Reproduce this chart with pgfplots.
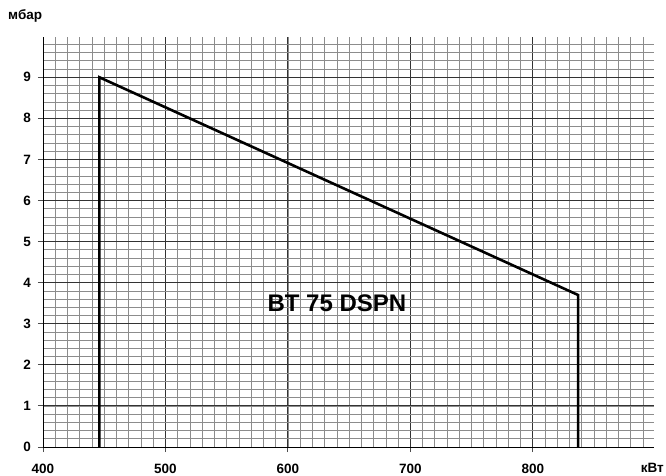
\documentclass[border=0pt]{standalone}
\usepackage{fontspec}
\setmainfont{Liberation Sans}
\usepackage{pgfplots}
\pgfplotsset{compat=1.18}
\begin{document}
\begin{tikzpicture}
\begin{axis}[
  at={(0pt,0pt)}, anchor=south west,
  scale only axis,
  width=611pt, height=410pt,
  xmin=400, xmax=899, ymin=0, ymax=9.98,
  xtick={400,500,600,700,800},
  ytick={0,1,2,3,4,5,6,7,8,9},
  minor xtick={410,420,...,890},
  minor ytick={0.2,0.4,...,9.8},
  grid=both,
  major grid style={black!80, line width=0.9pt},
  minor grid style={black!45, line width=0.7pt},
  axis x line=bottom, axis y line=left,
  axis line style={black, line width=0.9pt, -},
  tick align=outside,
  major tick length=5pt,
  minor tick length=0pt,
  tick style={black!70, line width=0.9pt},
  /pgf/number format/assume math mode=true,
  /pgf/number format/1000 sep={},
  tick label style={font=\fontsize{13.5}{15}\selectfont\bfseries},
  xticklabel style={yshift=-8.5pt},
  yticklabel style={xshift=-3.5pt},
  clip=false,
]
\addplot[black, line width=2.6pt, line join=miter] coordinates {(446,0) (446,9) (837,3.7) (837,0)};
\node[anchor=base, font=\fontsize{24}{26}\selectfont\bfseries] at (axis cs:640,3.29) {BT 75 DSPN};
\node[anchor=base west, xshift=-35pt, yshift=17pt, font=\fontsize{13.5}{15}\selectfont\bfseries, inner sep=0pt] at (rel axis cs:0,1) {мбар};
\node[anchor=base east, xshift=10pt, yshift=-25.5pt, font=\fontsize{13.5}{15}\selectfont\bfseries, inner sep=0pt] at (rel axis cs:1,0) {кВт};
\end{axis}
\pgfresetboundingbox
\path (-43pt,-28pt) rectangle (623pt,447pt);
\end{tikzpicture}
\end{document}
